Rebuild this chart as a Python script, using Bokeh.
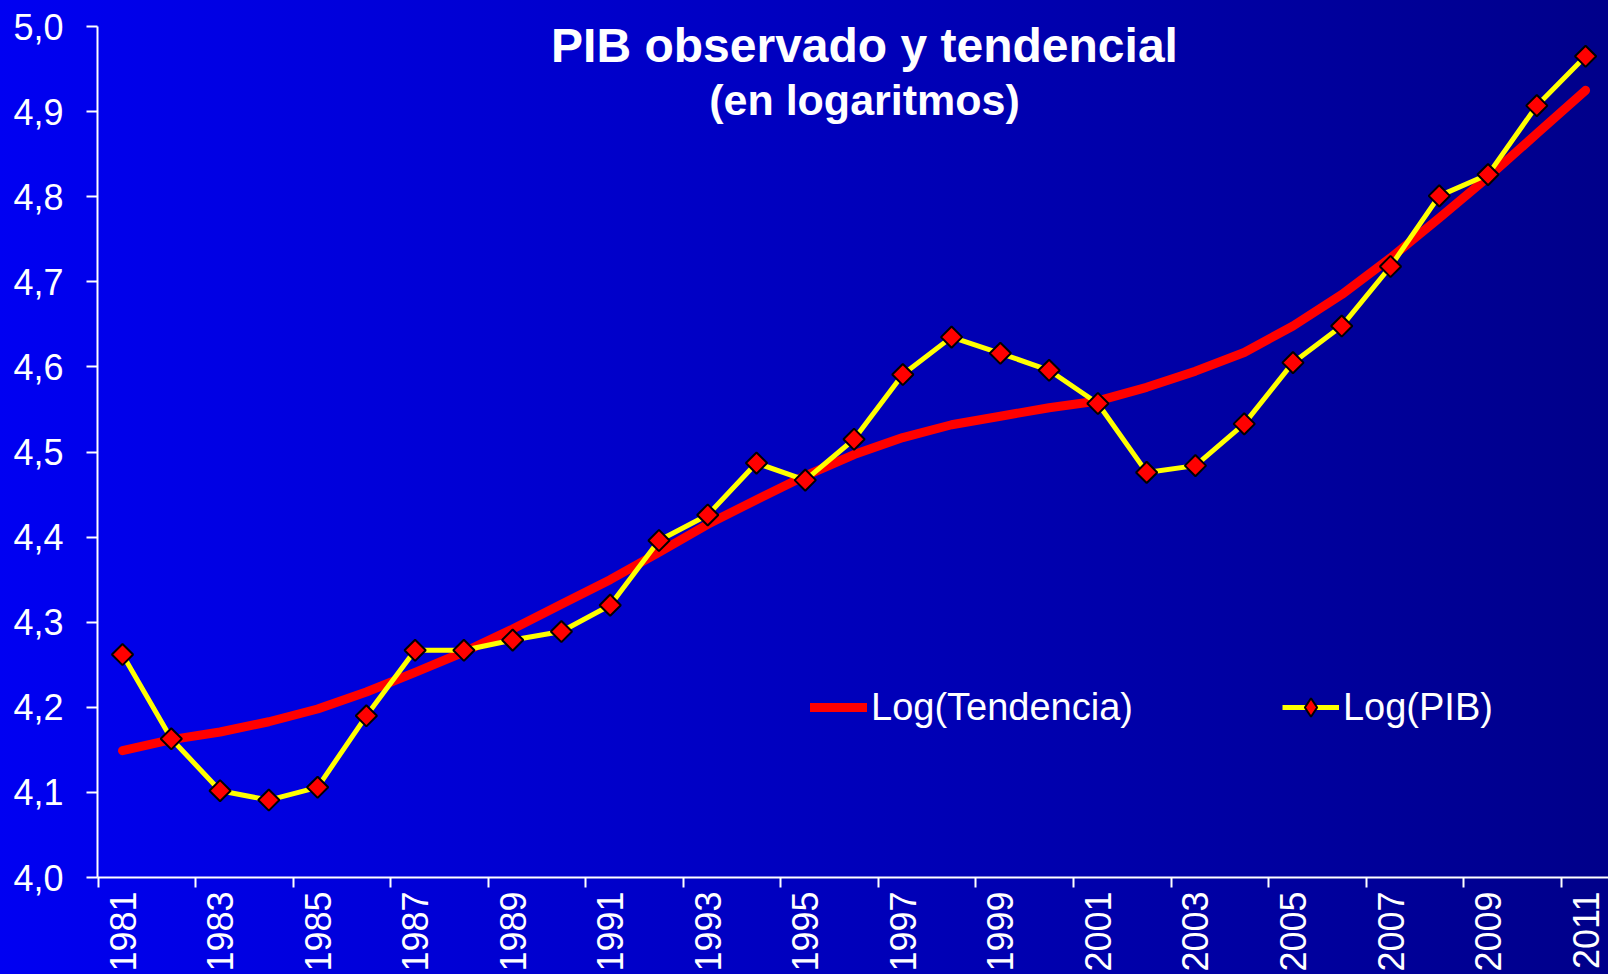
import math
from bokeh.plotting import figure
from bokeh.models import (Range1d, FixedTicker, Label, Legend, LegendItem,
                          GlobalInlineStyleSheet)
from bokeh.embed import file_html
from bokeh.resources import INLINE

# ---------------- data ----------------
years = [1981, 1982, 1983, 1984, 1985, 1986, 1987, 1988, 1989, 1990,
         1991, 1992, 1993, 1994, 1995, 1996, 1997, 1998, 1999, 2000,
         2001, 2002, 2003, 2004, 2005, 2006, 2007, 2008, 2009, 2010, 2011]

log_pib = [4.262, 4.163, 4.102, 4.091, 4.106, 4.190, 4.267, 4.267, 4.279, 4.289,
           4.320, 4.396, 4.426, 4.487, 4.467, 4.515, 4.591, 4.635, 4.616, 4.596,
           4.557, 4.476, 4.484, 4.533, 4.605, 4.648, 4.718, 4.801, 4.826, 4.907, 4.965]

log_tendencia = [4.149, 4.162, 4.171, 4.183, 4.198, 4.218, 4.241, 4.265, 4.292, 4.321,
                 4.350, 4.382, 4.415, 4.444, 4.472, 4.497, 4.517, 4.532, 4.542, 4.552,
                 4.560, 4.576, 4.595, 4.617, 4.648, 4.685, 4.728, 4.775, 4.823, 4.874, 4.925]

y_ticks = [4.0, 4.1, 4.2, 4.3, 4.4, 4.5, 4.6, 4.7, 4.8, 4.9, 5.0]
y_tick_labels = ["4,0", "4,1", "4,2", "4,3", "4,4", "4,5", "4,6", "4,7", "4,8", "4,9", "5,0"]

x_label_years = [1981, 1983, 1985, 1987, 1989, 1991, 1993, 1995, 1997, 1999,
                 2001, 2003, 2005, 2007, 2009, 2011]
x_tick_labels = ["1981", "1983", "1985", "1987", "1989", "1991", "1993", "1995",
                 "1997", "1999", "2001", "2003", "2005", "2007", "2009", "2011"]

title_text = "PIB observado y tendencial"
subtitle_text = "(en logaritmos)"
legend_labels = ["Log(Tendencia)", "Log(PIB)"]

FONT = "Liberation Sans"

# tick marks sit on category boundaries, every other category
x_tick_bounds = [y - 0.5 for y in x_label_years]

p = figure(width=1608, height=974, output_backend="svg", toolbar_location=None,
           x_range=Range1d(1980.487, 2011.47), y_range=Range1d(4.0, 5.0),
           min_border_left=97, min_border_right=0, min_border_top=26, min_border_bottom=95,
           background_fill_color=None, border_fill_color=None, outline_line_color=None)
p.grid.visible = False

p.stylesheets = [GlobalInlineStyleSheet(
    css="html, body { margin: 0; padding: 0; overflow: hidden; "
        "background: linear-gradient(to right, #0000f2, #00008a) fixed; }")]

# series
tr = p.line(years, log_tendencia, line_color="#ff0000", line_width=9,
            line_cap="round", line_join="round")
pl = p.line(years, log_pib, line_color="#ffff00", line_width=5, line_join="round")
# diamond marker (used for the legend sample; fully covered by the square markers)
dm = p.scatter(years, log_pib, marker="diamond", size=16,
               fill_color="#ff0000", line_color="black", line_width=2)
p.scatter(years, log_pib, marker="square", size=15, angle=math.pi / 4,
          fill_color="#ff0000", line_color="black", line_width=2)

# x axis: labels on category centres, tick marks on boundaries
xa = p.xaxis[0]
xa.ticker = FixedTicker(ticks=x_label_years, minor_ticks=x_tick_bounds)
xa.major_label_overrides = dict(zip(x_label_years, x_tick_labels))
xa.major_label_orientation = math.pi / 2
xa.major_label_text_color = "white"
xa.major_label_text_font = FONT
xa.major_label_text_font_size = "36px"
xa.major_label_standoff = 4
xa.axis_line_color = "white"
xa.axis_line_width = 2
xa.major_tick_line_color = None
xa.major_tick_out = 10
xa.major_tick_in = 0
xa.minor_tick_line_color = "white"
xa.minor_tick_line_width = 2
xa.minor_tick_out = 10
xa.minor_tick_in = 0

# y axis
ya = p.yaxis[0]
ya.ticker = FixedTicker(ticks=y_ticks, minor_ticks=[])
ya.major_label_overrides = dict(zip(y_ticks, y_tick_labels))
ya.axis_line_color = "white"
ya.axis_line_width = 2
ya.major_tick_line_color = "white"
ya.major_tick_line_width = 2
ya.major_tick_out = 11
ya.major_tick_in = 0
ya.minor_tick_line_color = None
ya.major_label_standoff = 23
ya.major_label_text_color = "white"
ya.major_label_text_font = FONT
ya.major_label_text_font_size = "36px"

# titles
p.add_layout(Label(x=767, y=832, x_units="screen", y_units="screen", text=title_text,
                   text_align="center", text_baseline="middle", text_font=FONT,
                   text_font_size="48px", text_font_style="bold", text_color="white"))
p.add_layout(Label(x=767, y=778, x_units="screen", y_units="screen", text=subtitle_text,
                   text_align="center", text_baseline="middle", text_font=FONT,
                   text_font_size="43px", text_font_style="bold", text_color="white"))

# legend
legend = Legend(items=[LegendItem(label=legend_labels[0], renderers=[tr]),
                       LegendItem(label=legend_labels[1], renderers=[pl, dm])],
                orientation="horizontal", location=(713, 147), spacing=149,
                glyph_width=57, glyph_height=46, label_standoff=4,
                label_text_font=FONT, label_text_font_size="38px", label_text_color="white",
                padding=0, margin=0, background_fill_alpha=0, border_line_alpha=0)
p.add_layout(legend)

open("out.html", "w").write(file_html(p, INLINE))
